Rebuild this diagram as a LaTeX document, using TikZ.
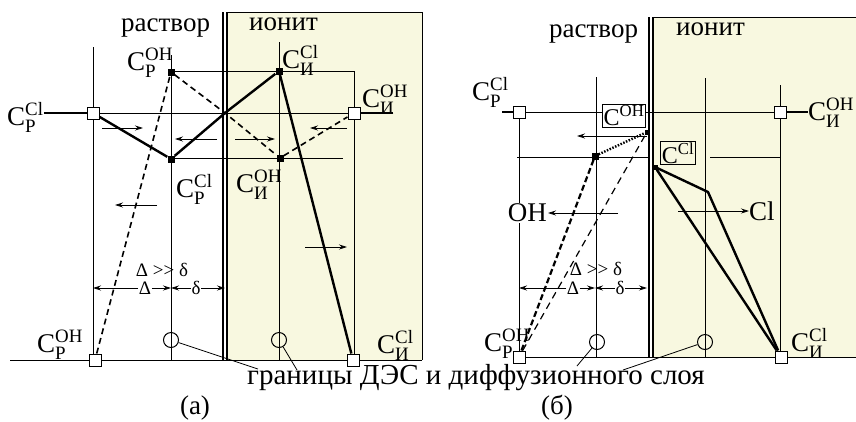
\documentclass[tikz,border=0pt]{standalone}
\usepackage{amsmath}
\usepackage{fontspec}
\setmainfont{Liberation Serif}
\usetikzlibrary{arrows.meta}
\definecolor{ionfill}{RGB}{248,248,224}
\newcommand{\conc}[2]{C$^{\text{#1}}_{\text{#2}}$}

\begin{document}
\begin{tikzpicture}[x=1pt, y=-1pt,
    guide/.style={line width=0.8pt},
    wall/.style={line width=1.2pt},
    prof/.style={line width=2.4pt},
    cdot/.style={rectangle, fill=black, inner sep=0pt, minimum size=7pt},
    sdot/.style={rectangle, fill=black, inner sep=0pt, minimum size=5pt},
    sq/.style={rectangle, draw, fill=white, line width=1pt, inner sep=0pt, minimum size=12pt},
    ring/.style={circle, draw, line width=1pt, inner sep=0pt, minimum size=15pt},
    lab/.style={font=\fontsize{27}{29}\selectfont, inner sep=0pt},
    boxlab/.style={font=\fontsize{24}{26}\selectfont, draw, line width=0.8pt, inner sep=1pt},
    dimlab/.style={font=\fontsize{19}{21}\selectfont, inner sep=0.5pt},
    flux/.style={line width=0.8pt, -{Stealth[length=8pt, width=5pt]}}]

    \useasboundingbox (0,0) rectangle (856,421);

    % Panel (a): ionite region and interface
    \fill[ionfill] (227,12) rectangle (422,360);
    \draw[guide] (227,12) -- (422,12) -- (422,360);
    \draw[wall] (223,12) -- (223,361) (227,12) -- (227,361);
    \node[lab, anchor=base west] (sa) at (121,31) {раствор};
    \node[lab, anchor=base west] (ia) at (249,30) {ионит};

    % Guide lines
    \draw[guide] (10,360) -- (422,360);
    \draw[guide] (93,47) -- (93,360);
    \draw[guide] (171,55) -- (171,360);
    \draw[guide] (279,42) -- (279,360);
    \draw[guide] (171,71) -- (354,71) -- (354,360);
    \draw[guide] (93,113) -- (354,113);
    \draw[guide] (171,158) -- (343,158);

    % Define concentration points
    \node[sq] (a1) at (93,113) {};
    \node[cdot] (a2) at (171,72) {};
    \node[cdot] (a3) at (171,159) {};
    \node[cdot] (a4) at (279,71) {};
    \node[cdot] (a5) at (280,158) {};
    \node[sq] (a6) at (354,113) {};
    \node[sq] (a7) at (95,360) {};
    \node[sq] (a8) at (353,360) {};
    \node[ring] (a9) at (171,340) {};
    \node[ring] (a10) at (279,340) {};
    \coordinate (ax) at (225,113);
    \coordinate (ae) at (393,113);

    % Labels
    \node[lab, anchor=base west] (pOHa) at (127,70) {\conc{OH}{Р}};
    \node[lab, anchor=base west] (iCla) at (282,68) {\conc{Cl}{И}};
    \node[lab, anchor=base west] (pCla) at (7,125) {\conc{Cl}{Р}};
    \node[lab, anchor=base west] (iOHa) at (362,107) {\conc{OH}{И}};
    \node[lab, anchor=base west] (pCla2) at (176,197) {\conc{Cl}{Р}};
    \node[lab, anchor=base west] (iOHa2) at (236,192) {\conc{OH}{И}};
    \node[lab, anchor=base west] (pOHa2) at (37,352) {\conc{OH}{Р}};
    \node[lab, anchor=base west] (iCla2) at (377,353) {\conc{Cl}{И}};

    % Draw profiles
    \draw[prof] (pCla.east |- a1) -- (a1);
    \draw[prof] (a6) -- (ae);
    \draw[prof] (a1) -- (a3) -- (ax) -- (a4) -- (a8);
    \draw[line width=1.6pt, dash pattern=on 6pt off 4pt] (a7) -- (a2) -- (ax) -- (a5) -- (a6);

    % Fluxes
    \draw[flux] (102,128) -- (143,128);
    \draw[flux] (217,139) -- (175,139);
    \draw[flux] (157,205) -- (115,205);
    \draw[flux] (347,128) -- (310,128);
    \draw[flux] (235,139) -- (275,139);
    \draw[flux] (305,247) -- (347,247);

    % Layer widths
    \node[dimlab] (rela) at (162,270) {Δ >{}> δ};
    \node[dimlab] (Da) at (145,288) {Δ};
    \node[dimlab] (da) at (196,288) {δ};
    \draw[flux] (Da) -- (Da -| a1);
    \draw[flux] (Da) -- (Da -| a9);
    \draw[flux] (da) -- (da -| a9);
    \draw[flux] (da) -- (da -| ax);

    % Panel (b): ionite region and interface
    \fill[ionfill] (653,17) rectangle (856,357);
    \draw[guide] (653,17) -- (856,17);
    \draw[wall] (649,17) -- (649,358) (653,17) -- (653,358);
    \node[lab, anchor=base west] (sb) at (549,37) {раствор};
    \node[lab, anchor=base west] (ib) at (676,35) {ионит};

    % Guide lines
    \draw[guide] (519,357) -- (856,357);
    \draw[guide] (519,112) -- (519,357);
    \draw[guide] (596,77) -- (596,357);
    \draw[guide] (705,78) -- (705,357);
    \draw[guide] (780,85) -- (780,357);
    \draw[guide] (519,112) -- (780,112);
    \draw[guide] (517,157) -- (649,157) (710,157) -- (780,157);

    % Define concentration points
    \node[sq] (b1) at (519,112) {};
    \node[cdot] (b2) at (595,156) {};
    \node[sq] (b6) at (780,112) {};
    \node[sq] (b7) at (519,357) {};
    \node[sq] (b8) at (781,357) {};
    \node[ring] (b9) at (597,342) {};
    \node[ring] (b10) at (705,342) {};
    \node[sdot] (bx1) at (647,132) {};
    \node[sdot] (bx2) at (655,167) {};
    \coordinate (bk) at (708,192);
    \coordinate (bs) at (502,112);

    % Labels
    \node[boxlab, fill=white] (bOH) at (624,116) {C$^{\text{OH}}$};
    \node[boxlab, fill=ionfill] (bCl) at (678,153) {C$^{\text{Cl}}$};
    \node[lab, anchor=base west] (pClb) at (472,100) {\conc{Cl}{Р}};
    \node[lab, anchor=base west] (iOHb) at (808,120) {\conc{OH}{И}};
    \node[lab, anchor=base west] (pOHb) at (484,351) {\conc{OH}{Р}};
    \node[lab, anchor=base west] (iClb) at (791,351) {\conc{Cl}{И}};

    % Draw profiles
    \draw[prof] (bs) -- (b1);
    \draw[prof] (b6) -- (b6 -| iOHb.west);
    \draw[line width=2.2pt, dash pattern=on 6pt off 3pt] (b7) -- (b2);
    \draw[line width=1.2pt, dash pattern=on 7pt off 5pt] (b7) -- (bx1);
    \draw[line width=2.4pt, dash pattern=on 1.5pt off 1.5pt] (b2) -- (bx1);
    \draw[prof] (bx2) -- (b8);
    \draw[prof] (bx2) -- (bk) -- (b8);

    % Fluxes
    \draw[flux] (647,136) -- (577,136);
    \node[lab, anchor=east, fill=white, inner sep=1pt] (ohb) at (548,213) {OH};
    \draw[flux] (618,213) -- (ohb);
    \node[lab, anchor=west] (clb) at (749,211) {Cl};
    \draw[flux] (678,211) -- (clb);

    % Layer widths
    \node[dimlab] (relb) at (596,269) {Δ >{}> δ};
    \node[dimlab] (Db) at (573,288) {Δ};
    \node[dimlab] (db) at (620,288) {δ};
    \draw[flux] (Db) -- (Db -| b1);
    \draw[flux] (Db) -- (Db -| b2);
    \draw[flux] (db) -- (db -| b2);
    \draw[flux] (db) -- (db -| bx1);

    % Boundaries caption
    \node[anchor=base west, font=\fontsize{29}{31}\selectfont, inner sep=0pt] (cap) at (247,384) {границы ДЭС и диффузионного слоя};
    \coordinate (l1) at (258,369);
    \coordinate (l2) at (297,370);
    \coordinate (l3) at (577,366);
    \coordinate (l4) at (623,370);
    \draw[guide] (l1) -- (a9);
    \draw[guide] (l2) -- (a10);
    \draw[guide] (l3) -- (b9);
    \draw[guide] (l4) -- (b10);
    \node[lab] (pa) at (195,408) {(а)};
    \node[lab] (pb) at (557,408) {(б)};
\end{tikzpicture}
\end{document}
